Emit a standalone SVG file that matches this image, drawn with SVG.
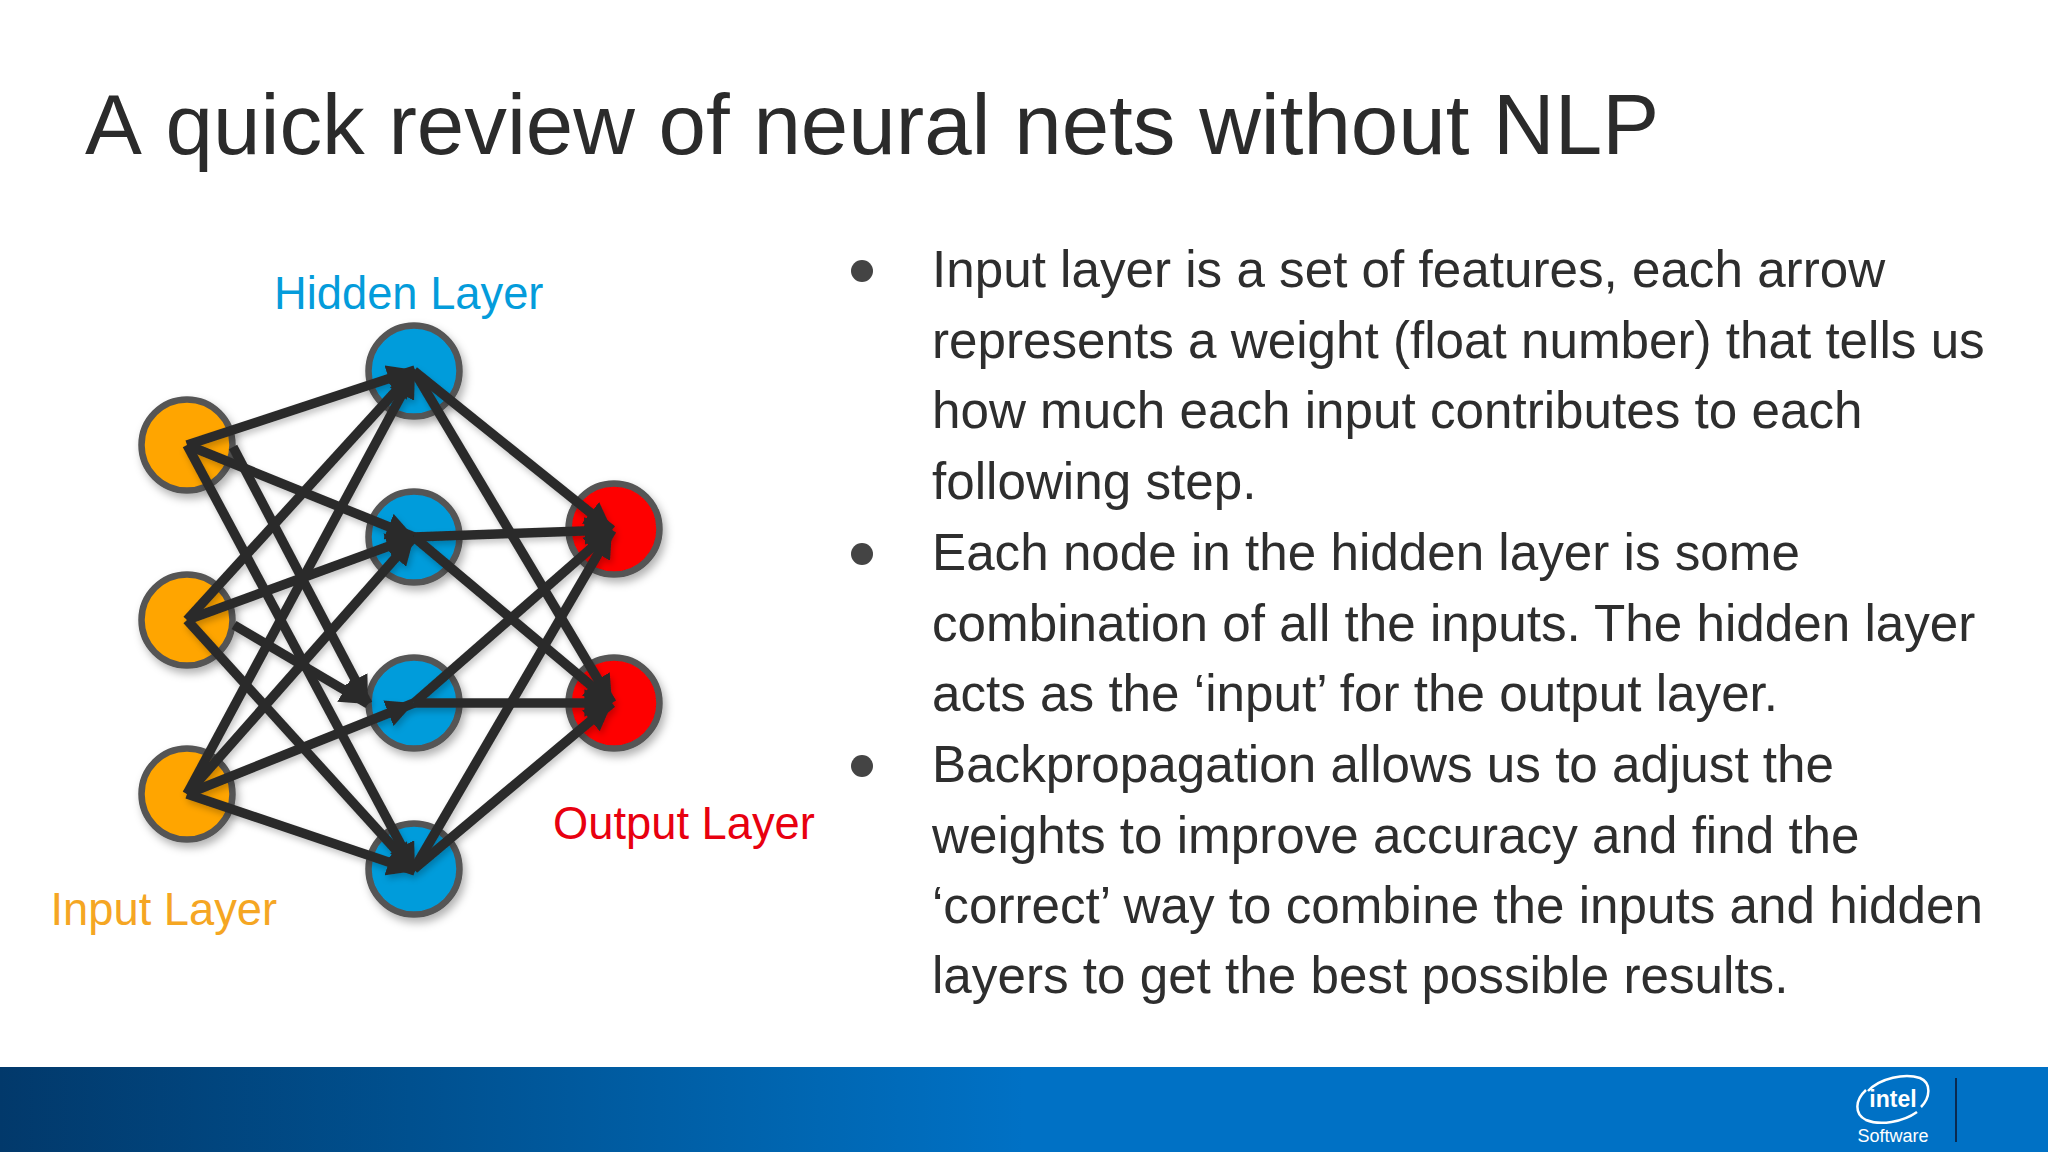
<svg xmlns="http://www.w3.org/2000/svg" width="2048" height="1152" viewBox="0 0 2048 1152">
<defs>
<linearGradient id="bar" x1="0" x2="1" y1="0" y2="0"><stop offset="0" stop-color="#02396b"/><stop offset="0.2" stop-color="#00508f"/><stop offset="0.4" stop-color="#0067b3"/><stop offset="0.5" stop-color="#0071c5"/><stop offset="1" stop-color="#0071c5"/></linearGradient>
<filter id="sh" x="-30%" y="-30%" width="160%" height="160%"><feDropShadow dx="3" dy="5" stdDeviation="4" flood-color="#000" flood-opacity="0.3"/></filter>
<filter id="ls" x="-10%" y="-10%" width="120%" height="120%"><feDropShadow dx="2" dy="4" stdDeviation="3" flood-color="#000" flood-opacity="0.22"/></filter>
<marker id="ah" viewBox="0 0 10 10" refX="10" refY="5" markerWidth="2.9" markerHeight="2.9" orient="auto"><path d="M0 0L10 5L0 10Z" fill="#2b2b2b"/></marker>
</defs>
<style>
text{font-family:"Liberation Sans",Arial,sans-serif}
.t{font-size:85.3px;fill:#2b2b2b;font-kerning:none}
.b{font-size:51.2px;fill:#2e2e2e}
.l{font-size:45.3px}
.n{stroke:#555;stroke-width:6.5;filter:url(#sh)}
.i{fill:#ffa500}.h{fill:#049cdb}.o{fill:#fe0000}
#connectors{filter:url(#ls)}
#connectors line{stroke:#2b2b2b;stroke-width:9.5;marker-end:url(#ah)}
.s{fill:none;stroke:#fff;stroke-width:2.5}
</style>
<rect width="2048" height="1152" fill="#fff"/>
<rect x="0" y="1067" width="2048" height="85" fill="url(#bar)"/>
<text class="t" x="85" y="154">A quick review of neural nets without NLP</text>
<g id="n-i1"><circle class="n i" cx="187" cy="445" r="45.5"/></g>
<g id="n-i2"><circle class="n i" cx="187" cy="620" r="45.5"/></g>
<g id="n-i3"><circle class="n i" cx="187" cy="794" r="45.5"/></g>
<g id="n-h1"><circle class="n h" cx="414" cy="371" r="45.5"/></g>
<g id="n-h2"><circle class="n h" cx="414" cy="537" r="45.5"/></g>
<g id="n-h3"><circle class="n h" cx="414" cy="703" r="45.5"/></g>
<g id="n-h4"><circle class="n h" cx="414" cy="869" r="45.5"/></g>
<g id="n-o1"><circle class="n o" cx="614" cy="529" r="45.5"/></g>
<g id="n-o2"><circle class="n o" cx="614" cy="703" r="45.5"/></g>
<g id="connectors">
<line x1="187" y1="445" x2="415" y2="370"/><line x1="187" y1="445" x2="414" y2="537"/><line x1="233" y1="447" x2="368" y2="704"/><line x1="187" y1="445" x2="415" y2="871"/>
<line x1="187" y1="620" x2="415" y2="370"/><line x1="187" y1="620" x2="414" y2="537"/><line x1="234" y1="625" x2="368" y2="704"/><line x1="187" y1="620" x2="415" y2="871"/>
<line x1="187" y1="794" x2="415" y2="370"/><line x1="187" y1="794" x2="414" y2="537"/><line x1="187" y1="794" x2="414" y2="703"/><line x1="187" y1="794" x2="415" y2="871"/>
<line x1="414" y1="371" x2="612" y2="530"/><line x1="414" y1="371" x2="612" y2="703"/>
<line x1="414" y1="537" x2="612" y2="530"/><line x1="414" y1="537" x2="612" y2="703"/>
<line x1="414" y1="703" x2="612" y2="530"/><line x1="414" y1="703" x2="612" y2="703"/>
<line x1="414" y1="869" x2="612" y2="530"/><line x1="414" y1="869" x2="612" y2="703"/>
</g>
<text class="l" x="274" y="309" fill="#049cdb">Hidden Layer</text>
<text class="l" x="553" y="839" fill="#e8000f">Output Layer</text>
<text class="l" x="50.5" y="925" fill="#f5a623">Input Layer</text>
<g id="body">
<circle cx="862" cy="271" r="11" fill="#444"/><circle cx="862" cy="554" r="11" fill="#444"/><circle cx="862" cy="766" r="11" fill="#444"/>
<text class="b" x="932" y="286.5">Input layer is a set of features, each arrow</text>
<text class="b" x="932" y="357.5">represents a weight (float number) that tells us</text>
<text class="b" x="932" y="428">how much each input contributes to each</text>
<text class="b" x="932" y="498.5">following step.</text>
<text class="b" x="932" y="569.5">Each node in the hidden layer is some</text>
<text class="b" x="932" y="640.5">combination of all the inputs. The hidden layer</text>
<text class="b" x="932" y="711">acts as the ‘input’ for the output layer.</text>
<text class="b" x="932" y="781.5">Backpropagation allows us to adjust the</text>
<text class="b" x="932" y="852.5">weights to improve accuracy and find the</text>
<text class="b" x="932" y="923">‘correct’ way to combine the inputs and hidden</text>
<text class="b" x="932" y="993">layers to get the best possible results.</text>
</g>
<g id="logo">
<path class="s" d="M1868 1091C1880 1078 1905 1073 1920 1078C1932 1083 1930 1098 1921 1107"/>
<path class="s" d="M1866 1090C1855 1100 1854 1114 1866 1120C1880 1126 1903 1122 1917 1112"/>
<text x="1893" y="1107" font-size="23" font-weight="bold" fill="#fff" text-anchor="middle">intel</text>
<text x="1893" y="1142" font-size="18" fill="#fff" text-anchor="middle">Software</text>
<rect x="1955" y="1078" width="2" height="64" fill="#0a2a50"/>
</g>
</svg>
